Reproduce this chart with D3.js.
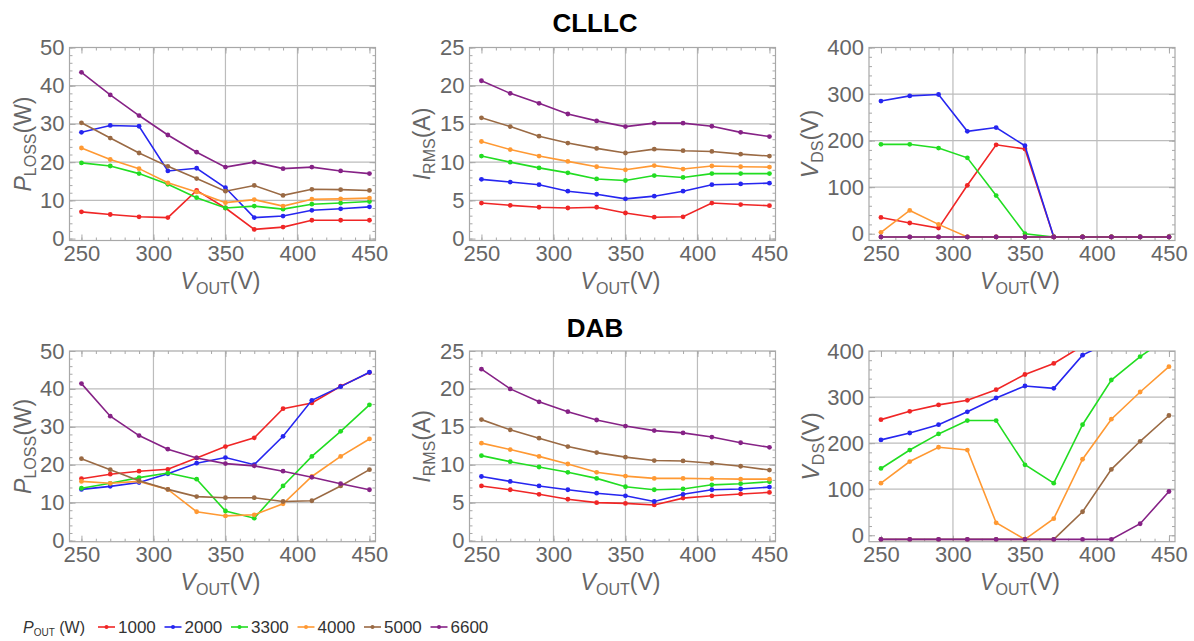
<!DOCTYPE html>
<html lang="en">
<head>
<meta charset="UTF-8">
<title>CLLLC vs DAB</title>
<style>
  body { margin: 0; background: #fff; }
  text { font-family: "Liberation Sans", Arial, sans-serif; }
</style>
</head>
<body>
<svg id="chart" width="1194" height="641"></svg>
<script src="https://d3js.org/d3.v7.min.js"></script>
<script>

var vout = [250, 270, 290, 310, 330, 350, 370, 390, 410, 430, 450];
var pout = ["1000", "2000", "3300", "4000", "5000", "6600"];
var colors = ["#f02626", "#2626f0", "#22dd22", "#ff9933", "#9a6a44", "#862286"];

// rows follow pout: 1000, 2000, 3300, 4000, 5000, 6600
var clllcPloss = [
    [7.0, 6.3, 5.7, 5.5, 12.6, 8.0, 2.4, 3.0, 4.8, 4.8, 4.8],
    [27.8, 29.6, 29.4, 17.7, 18.4, 13.3, 5.5, 5.9, 7.4, 7.8, 8.3],
    [19.8, 19.0, 17.0, 14.2, 10.7, 8.0, 8.5, 7.7, 9.0, 9.3, 9.7],
    [23.7, 20.7, 18.3, 14.6, 12.2, 9.4, 10.2, 8.5, 10.3, 10.4, 10.6],
    [30.3, 26.3, 22.4, 18.9, 15.7, 12.4, 13.9, 11.3, 12.9, 12.8, 12.6],
    [43.5, 37.6, 32.2, 27.1, 22.6, 18.7, 20.0, 18.3, 18.7, 17.7, 17.0]
];
var clllcIrms = [
    [4.65, 4.35, 4.1, 4.0, 4.1, 3.35, 2.8, 2.85, 4.65, 4.45, 4.3],
    [7.75, 7.4, 7.05, 6.2, 5.8, 5.2, 5.55, 6.2, 7.05, 7.15, 7.25],
    [10.8, 10.0, 9.25, 8.6, 7.8, 7.6, 8.25, 8.0, 8.5, 8.5, 8.5],
    [12.7, 11.65, 10.8, 10.1, 9.4, 9.0, 9.55, 9.1, 9.5, 9.4, 9.35],
    [15.8, 14.65, 13.4, 12.5, 11.8, 11.2, 11.7, 11.5, 11.4, 11.05, 10.8],
    [20.65, 19.0, 17.7, 16.3, 15.4, 14.65, 15.1, 15.1, 14.7, 13.9, 13.35]
];
var clllcVds = [
    [35, 23, 12, 104, 191, 182, -7, -7, -7, -7, -7],
    [285, 296, 299, 220, 228, 189, -7, -7, -7, -7, -7],
    [192, 192, 184, 163, 82, 0, -7, -7, -7, -7, -7],
    [3, 50, 20, -7, -7, -7, -7, -7, -7, -7, -7],
    [-7, -7, -7, -7, -7, -7, -7, -7, -7, -7, -7],
    [-7, -7, -7, -7, -7, -7, -7, -7, -7, -7, -7]
];
var dabPloss = [
    [16.3, 17.5, 18.3, 18.8, 21.8, 24.8, 27.1, 34.8, 36.3, 40.7, 44.3],
    [13.5, 14.3, 15.3, 17.6, 20.4, 21.9, 20.0, 27.5, 37.0, 40.6, 44.4],
    [13.8, 15.1, 16.6, 17.8, 16.2, 7.8, 5.9, 14.4, 22.2, 28.8, 35.8],
    [15.6, 15.1, 15.6, 13.5, 7.6, 6.5, 6.8, 9.7, 16.9, 22.2, 26.8],
    [21.6, 18.7, 15.8, 13.5, 11.6, 11.3, 11.3, 10.3, 10.5, 14.4, 18.7],
    [41.4, 32.8, 27.7, 24.1, 21.8, 20.3, 19.7, 18.3, 16.7, 15.0, 13.4]
];
var dabIrms = [
    [7.2, 6.7, 6.1, 5.45, 5.0, 4.9, 4.7, 5.6, 5.9, 6.15, 6.35],
    [8.45, 7.8, 7.2, 6.7, 6.25, 5.9, 5.15, 6.1, 6.7, 6.8, 7.05],
    [11.2, 10.4, 9.7, 9.0, 8.2, 7.1, 6.7, 6.8, 7.35, 7.5, 7.75],
    [12.85, 12.0, 11.1, 10.1, 9.0, 8.5, 8.2, 8.2, 8.15, 8.1, 8.1],
    [15.95, 14.6, 13.5, 12.4, 11.6, 11.0, 10.55, 10.5, 10.2, 9.8, 9.3],
    [22.6, 20.0, 18.3, 17.0, 15.9, 15.1, 14.5, 14.2, 13.65, 12.9, 12.3]
];
var dabVds = [
    [251, 269, 283, 293, 316, 349, 373, 411, 440, 470, 500],
    [207, 222, 240, 268, 298, 324, 319, 391, 422, 450, 480],
    [145, 185, 220, 249, 249, 153, 113, 240, 337, 388, 430],
    [113, 160, 191, 185, 27, -9, 36, 165, 252, 311, 366],
    [-9, -9, -9, -9, -9, -9, -9, 51, 143, 204, 260],
    [-9, -9, -9, -9, -9, -9, -9, -9, -9, 25, 95]
];

var xMajor = [250, 300, 350, 400, 450];
var xGrid = [300, 350, 400];

var svg = d3.select("#chart"),
    frameW = 306,
    frameColor = "#a8a8a8",
    gridColor = "#bcbcbc",
    labelColor = "#666";

var panels = [
    {data: clllcPloss, left: 69.5, top: 47.5, bottom: 240.5, ydom: [-0.5, 50], major: 10, minor: 2, sym: "P", sub: "LOSS", unit: "(W)", tx: 23},
    {data: clllcIrms, left: 469.5, top: 47.5, bottom: 240.5, ydom: [-0.25, 25], major: 5, minor: 1, sym: "I", sub: "RMS", unit: "(A)", tx: 422},
    {data: clllcVds, left: 869, top: 47.5, bottom: 240.5, ydom: [-14.6, 400], major: 100, minor: 20, sym: "V", sub: "DS", unit: "(V)", tx: 810},
    {data: dabPloss, left: 69.5, top: 351, bottom: 541.7, ydom: [-0.3, 50], major: 10, minor: 2, sym: "P", sub: "LOSS", unit: "(W)", tx: 23},
    {data: dabIrms, left: 469.5, top: 351, bottom: 541.7, ydom: [-0.15, 25], major: 5, minor: 1, sym: "I", sub: "RMS", unit: "(A)", tx: 422},
    {data: dabVds, left: 869, top: 351, bottom: 541.7, ydom: [-14, 400], major: 100, minor: 20, sym: "V", sub: "DS", unit: "(V)", tx: 811}
];

function styleAxis(g, labels) {
    g.select(".domain").remove();
    g.selectAll(".tick line").attr("stroke", frameColor);
    g.selectAll(".tick text")
        .attr("fill", labelColor)
        .style("font-size", "22px");
    if (!labels) g.selectAll(".tick text").remove();
}

function drawPanel(p, i) {
    var x = d3.scaleLinear().domain([241.7, 454.2]).range([p.left, p.left + frameW]);
    var y = d3.scaleLinear().domain(p.ydom).range([p.bottom, p.top]);
    var ymax = p.ydom[1];
    var yMajor = d3.range(0, ymax + 0.001, p.major);
    var yMinor = d3.range(0, ymax + 0.001, p.minor);
    var yGrid = yMajor.filter(function (d) { return d > 0 && d < ymax; });
    var xMinor = d3.range(250, 451, 10);

    var g = svg.append("g");

    // grid lines
    g.selectAll(".vg").data(xGrid).join("line")
        .attr("x1", function (d) { return x(d); })
        .attr("x2", function (d) { return x(d); })
        .attr("y1", p.top).attr("y2", p.bottom)
        .attr("stroke", gridColor).attr("stroke-width", 1.2);
    g.selectAll(".hg").data(yGrid).join("line")
        .attr("x1", p.left).attr("x2", p.left + frameW)
        .attr("y1", function (d) { return y(d); })
        .attr("y2", function (d) { return y(d); })
        .attr("stroke", gridColor).attr("stroke-width", 1.2);

    // frame ticks, all pointing inward
    g.append("g").attr("transform", "translate(0," + p.bottom + ")")
        .call(d3.axisBottom(x).tickValues(xMajor).tickSize(-6).tickPadding(5))
        .call(styleAxis, true);
    g.append("g").attr("transform", "translate(0," + p.bottom + ")")
        .call(d3.axisBottom(x).tickValues(xMinor).tickSize(-3).tickFormat(""))
        .call(styleAxis, false);
    g.append("g").attr("transform", "translate(0," + p.top + ")")
        .call(d3.axisTop(x).tickValues(xMajor).tickSize(-6))
        .call(styleAxis, false);
    g.append("g").attr("transform", "translate(0," + p.top + ")")
        .call(d3.axisTop(x).tickValues(xMinor).tickSize(-3))
        .call(styleAxis, false);
    g.append("g").attr("transform", "translate(" + p.left + ",0)")
        .call(d3.axisLeft(y).tickValues(yMajor).tickSize(-6).tickPadding(5))
        .call(styleAxis, true);
    g.append("g").attr("transform", "translate(" + p.left + ",0)")
        .call(d3.axisLeft(y).tickValues(yMinor).tickSize(-3).tickFormat(""))
        .call(styleAxis, false);
    g.append("g").attr("transform", "translate(" + (p.left + frameW) + ",0)")
        .call(d3.axisRight(y).tickValues(yMajor).tickSize(-6))
        .call(styleAxis, false);
    g.append("g").attr("transform", "translate(" + (p.left + frameW) + ",0)")
        .call(d3.axisRight(y).tickValues(yMinor).tickSize(-3))
        .call(styleAxis, false);

    g.append("rect")
        .attr("x", p.left).attr("y", p.top)
        .attr("width", frameW).attr("height", p.bottom - p.top)
        .attr("fill", "none").attr("stroke", frameColor).attr("stroke-width", 1.2);

    // clip the series to the frame
    var clipId = "clip" + i;
    svg.append("clipPath").attr("id", clipId).append("rect")
        .attr("x", p.left).attr("y", p.top)
        .attr("width", frameW).attr("height", p.bottom - p.top);

    var plot = g.append("g").attr("clip-path", "url(#" + clipId + ")");
    var line = d3.line()
        .x(function (d, j) { return x(vout[j]); })
        .y(function (d) { return y(d); });

    p.data.forEach(function (series, s) {
        plot.append("path")
            .attr("d", line(series))
            .attr("fill", "none")
            .attr("stroke", colors[s])
            .attr("stroke-width", 1.6);
        plot.selectAll(null).data(series).join("circle")
            .attr("cx", function (d, j) { return x(vout[j]); })
            .attr("cy", function (d) { return y(d); })
            .attr("r", 2.4)
            .attr("fill", colors[s]);
    });

    // x title
    var xt = g.append("text")
        .attr("x", p.left + frameW / 2 - 2)
        .attr("y", p.bottom + 48)
        .attr("text-anchor", "middle")
        .attr("fill", labelColor)
        .style("font-size", "23px");
    xt.append("tspan").style("font-style", "italic").text("V");
    xt.append("tspan").attr("dy", 5).style("font-size", "16px").text("OUT");
    xt.append("tspan").attr("dy", -5).text("(V)");

    // y title
    var yt = g.append("text")
        .attr("transform", "translate(" + p.tx + "," + ((p.top + p.bottom) / 2) + ") rotate(-90)")
        .attr("dy", "0.35em")
        .attr("text-anchor", "middle")
        .attr("fill", labelColor)
        .style("font-size", "23px");
    yt.append("tspan").style("font-style", "italic").text(p.sym);
    yt.append("tspan").attr("dy", 5).style("font-size", "16px").text(p.sub);
    yt.append("tspan").attr("dy", -5).text(p.unit);
}

panels.forEach(drawPanel);

// row titles
svg.append("text").attr("x", 595).attr("y", 32)
    .attr("text-anchor", "middle").attr("font-weight", "bold")
    .style("font-size", "26px").attr("fill", "#000").text("CLLLC");
svg.append("text").attr("x", 595).attr("y", 337)
    .attr("text-anchor", "middle").attr("font-weight", "bold")
    .style("font-size", "26px").attr("fill", "#000").text("DAB");

// legend
var leg = svg.append("g").attr("transform", "translate(0,627)");
var lt = leg.append("text").attr("x", 23).attr("dy", "0.35em")
    .attr("fill", "#333").style("font-size", "16px");
lt.append("tspan").style("font-style", "italic").text("P");
lt.append("tspan").attr("dy", 3).style("font-size", "10px").text("OUT");
lt.append("tspan").attr("dy", -3).text(" (W)");

var legX = d3.scalePoint().domain(pout).range([98, 430.5]);
var item = leg.selectAll(".item").data(pout).join("g")
    .attr("transform", function (d) { return "translate(" + legX(d) + ",0)"; });
item.append("line").attr("x1", 0).attr("x2", 17)
    .attr("stroke", function (d, i) { return colors[i]; }).attr("stroke-width", 1.6);
item.append("circle").attr("cx", 8.5).attr("r", 2)
    .attr("fill", function (d, i) { return colors[i]; });
item.append("text").attr("x", 20).attr("dy", "0.35em")
    .attr("fill", "#333")
    .style("font-family", "'Liberation Sans Narrow', 'Liberation Sans', Arial, sans-serif")
    .style("font-size", "17px")
    .text(function (d) { return d; });

</script>
</body>
</html>
